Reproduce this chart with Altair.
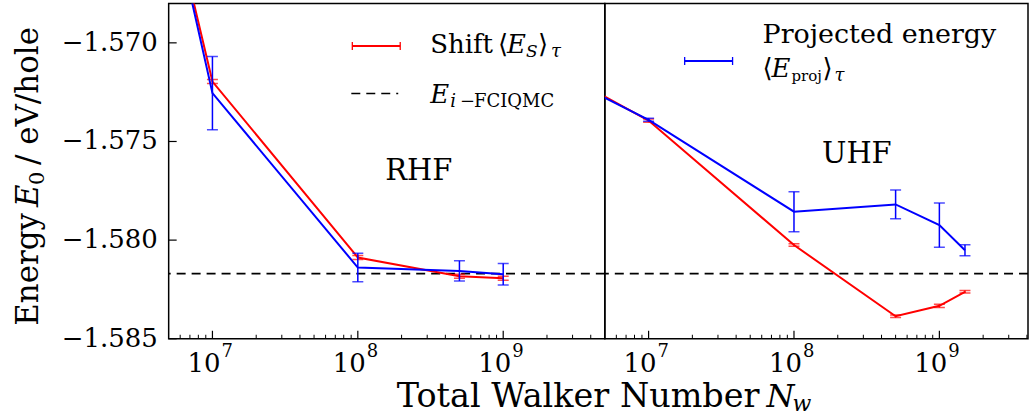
import altair as alt
import pandas as pd

# ---------------- data ----------------
rhf_walkers = [1e6, 1e7, 1e8, 5e8, 1e9]
rhf_shift = [-1.5409, -1.57196, -1.58088, -1.58183, -1.58193]
rhf_shift_err = [0.0001, 0.0001, 0.0001, 0.0001, 0.0001]
rhf_proj = [-1.5397, -1.57255, -1.58139, -1.58156, -1.58173]
rhf_proj_err = [0.0019, 0.00186, 0.00072, 0.00051, 0.00055]

uhf_walkers = [1e6, 1e7, 1e8, 5e8, 1e9, 1.5e9]
uhf_shift = [-1.5699, -1.57394, -1.58025, -1.58386, -1.58333, -1.58262]
uhf_shift_err = [0.0001, 0.00008, 0.00006, 0.00006, 0.00008, 0.00006]
uhf_proj = [-1.5702, -1.5739, -1.57856, -1.57819, -1.57924, -1.58051]
uhf_proj_err = [0.0002, 0.00008, 0.00101, 0.00073, 0.00112, 0.00028]

e_ifciqmc = -1.5817

y_domain = [-1.585, -1.568]
y_tick_values = [-1.585, -1.580, -1.575, -1.570]
y_tick_labels = ["−1.585", "−1.580", "−1.575", "−1.570"]
x_tick_values = [1e7, 1e8, 1e9]
x_tick_exponents = ["7", "8", "9"]
x_minor_values = [6e6, 7e6, 8e6, 9e6,
                  2e7, 3e7, 4e7, 5e7, 6e7, 7e7, 8e7, 9e7,
                  2e8, 3e8, 4e8, 5e8, 6e8, 7e8, 8e8, 9e8,
                  2e9, 3e9, 4e9]

FONT = "DejaVu Serif"
RED = "#ff0000"
BLUE = "#0000ff"
H = 336


def txt(text, x, y, size=26, italic=False, align="left", angle=0, baseline="alphabetic"):
    kw = dict(text=text, font=FONT, fontSize=size, color="black", align=align,
              baseline=baseline)
    if italic:
        kw["fontStyle"] = "italic"
    if angle:
        kw["angle"] = angle
    return alt.Chart(pd.DataFrame({"d": [0]})).mark_text(**kw).encode(
        x=alt.value(x), y=alt.value(y))


def seg(x1, y1, x2, y2, color, dash=None, width=1.8):
    kw = dict(color=color, strokeWidth=width)
    if dash:
        kw["strokeDash"] = dash
    return alt.Chart(pd.DataFrame({"d": [0]})).mark_rule(**kw).encode(
        x=alt.value(x1), x2=alt.value(x2), y=alt.value(y1), y2=alt.value(y2))


def panel(walkers, shift, shift_err, proj, proj_err, width, xmax, left):
    xs = alt.Scale(type="log", domain=[5e6, xmax], nice=False)
    ys = alt.Scale(domain=y_domain, nice=False, zero=False)

    layers = []
    # reference i-FCIQMC energy
    layers.append(alt.Chart(pd.DataFrame({"e": [e_ifciqmc]})).mark_rule(
        color="black", strokeDash=[9, 6], strokeWidth=1.6).encode(
        y=alt.Y("e:Q", scale=ys, axis=None)))

    for vals, errs, col in [(shift, shift_err, RED), (proj, proj_err, BLUE)]:
        df = pd.DataFrame({"n": walkers, "e": vals, "err": errs})
        df["lo"] = df["e"] - df["err"]
        df["hi"] = df["e"] + df["err"]
        caps = pd.concat([df[["n", "lo"]].rename(columns={"lo": "c"}),
                          df[["n", "hi"]].rename(columns={"hi": "c"})])
        layers.append(alt.Chart(df).mark_line(color=col, strokeWidth=2, clip=True).encode(
            x=alt.X("n:Q", scale=xs, axis=None), y=alt.Y("e:Q", scale=ys, axis=None)))
        layers.append(alt.Chart(df).mark_rule(color=col, strokeWidth=1.5, clip=True).encode(
            x=alt.X("n:Q", scale=xs, axis=None), y=alt.Y("lo:Q", scale=ys, axis=None),
            y2="hi:Q"))
        layers.append(alt.Chart(caps).mark_tick(color=col, orient="horizontal", size=11,
                                                thickness=1.5, clip=True).encode(
            x=alt.X("n:Q", scale=xs, axis=None), y=alt.Y("c:Q", scale=ys, axis=None)))

    # inward ticks
    layers.append(alt.Chart(pd.DataFrame({"v": x_tick_values})).mark_rule(
        color="black", strokeWidth=1.2).encode(
        x=alt.X("v:Q", scale=xs, axis=None), y=alt.value(H), y2=alt.value(H - 8)))
    layers.append(alt.Chart(pd.DataFrame({"v": [v for v in x_minor_values if v < xmax]})).mark_rule(
        color="black", strokeWidth=1.0).encode(
        x=alt.X("v:Q", scale=xs, axis=None), y=alt.value(H), y2=alt.value(H - 4)))

    # x tick labels: 10 with superscript exponent
    xt = pd.DataFrame({"v": x_tick_values, "exp": x_tick_exponents, "base": ["10"] * 3})
    layers.append(alt.Chart(xt).mark_text(font=FONT, fontSize=26, align="right",
                                          baseline="alphabetic", dx=8, color="black").encode(
        x=alt.X("v:Q", scale=xs, axis=None), y=alt.value(H + 33), text="base:N"))
    layers.append(alt.Chart(xt).mark_text(font=FONT, fontSize=18, align="left",
                                          baseline="alphabetic", dx=9, color="black").encode(
        x=alt.X("v:Q", scale=xs, axis=None), y=alt.value(H + 18), text="exp:N"))

    if left:
        layers.append(alt.Chart(pd.DataFrame({"v": y_tick_values})).mark_rule(
            color="black", strokeWidth=1.2).encode(
            y=alt.Y("v:Q", scale=ys, axis=None), x=alt.value(0), x2=alt.value(8)))
        yt = pd.DataFrame({"v": y_tick_values, "lab": y_tick_labels})
        layers.append(alt.Chart(yt).mark_text(font=FONT, fontSize=26, align="right",
                                              baseline="middle", color="black").encode(
            y=alt.Y("v:Q", scale=ys, axis=None), x=alt.value(-11), text="lab:N"))
        # legend
        layers += [
            seg(184, 42.7, 232, 42.7, RED),
            seg(184, 38.7, 184, 46.7, RED, width=1.3),
            seg(232, 38.7, 232, 46.7, RED, width=1.3),
            txt("Shift", 262, 50),
            txt("⟨", 330, 50),
            txt("E", 339, 50, italic=True),
            txt("S", 358, 54, size=17, italic=True),
            txt("⟩", 370, 50),
            txt("τ", 383, 54, size=18, italic=True),
            seg(183, 90.3, 230, 90.3, "black", dash=[9, 6], width=1.6),
            txt("E", 262, 100, italic=True),
            txt("i", 282, 104, size=18, italic=True),
            txt("−", 292, 104, size=18),
            txt("FCIQMC", 306, 104, size=18),
            txt("RHF", 250.5, 177, size=29, align="center"),
            # y title
            txt("Energy", -131, 210, size=31, align="right", angle=270),
            txt("E", -131, 204, size=31, italic=True, angle=270),
            txt("0", -125, 182, size=21, angle=270),
            txt("/ eV/hole", -131, 162, size=31, angle=270),
            # x title
            txt("Total Walker Number", 592, 404, size=33.5, align="right"),
            txt("N", 599, 404, size=32, italic=True),
            txt("w", 625, 408, size=22, italic=True),
        ]
    else:
        layers += [
            seg(80, 57.7, 128, 57.7, BLUE),
            seg(80, 53.7, 80, 61.7, BLUE, width=1.3),
            seg(128, 53.7, 128, 61.7, BLUE, width=1.3),
            txt("Projected energy", 158, 40, size=27),
            txt("⟨", 158, 74),
            txt("E", 167, 74, italic=True),
            txt("proj", 187, 78, size=15),
            txt("⟩", 218, 74),
            txt("τ", 230, 78, size=18, italic=True),
            txt("UHF", 252.5, 159.5, size=29, align="center"),
        ]

    return alt.layer(*layers).properties(width=width, height=H)


left = panel(rhf_walkers, rhf_shift, rhf_shift_err, rhf_proj, rhf_proj_err, 437, 5e9, True)
right = panel(uhf_walkers, uhf_shift, uhf_shift_err, uhf_proj, uhf_proj_err, 424, 4.07e9, False)

chart = alt.hconcat(left, right, spacing=0, bounds="flush").properties(
    padding={"left": 12, "top": 2, "right": 0, "bottom": 0},
    background="white",
).configure_view(stroke="black", strokeWidth=1.5)

chart.save("out.html", embed_options={"renderer": "svg", "actions": False})
